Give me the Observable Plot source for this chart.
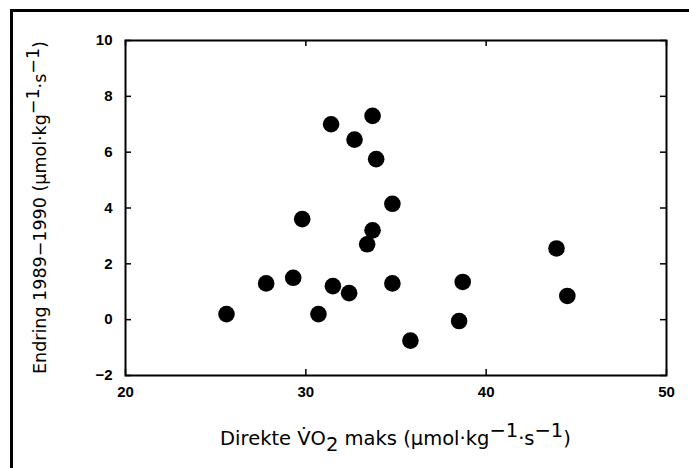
<!DOCTYPE html>
<html>
<head>
<meta charset="utf-8">
<script src="https://cdn.jsdelivr.net/npm/d3@7"></script>
<script src="https://cdn.jsdelivr.net/npm/@observablehq/plot@0.6"></script>
<style>
  html, body { margin: 0; padding: 0; background: #fff; }
  #wrap { position: relative; width: 689px; height: 468px; overflow: hidden; }
  #border { position: absolute; left: 10px; top: 9px; right: -5px; bottom: -5px;
            border-top: 3px solid #000; border-left: 3px solid #000; pointer-events: none; }
</style>
</head>
<body>
<div id="wrap"><div id="border"></div></div>
<script>
// Data
const vo2max = [25.6, 27.8, 29.3, 29.8, 30.7, 31.4, 31.5, 32.4, 32.7, 33.4,
                33.7, 33.7, 33.9, 34.8, 34.8, 35.8, 38.5, 38.7, 43.9, 44.5];
const change = [0.2, 1.3, 1.5, 3.6, 0.2, 7.0, 1.2, 0.95, 6.45, 2.7,
                3.2, 7.3, 5.75, 4.15, 1.3, -0.75, -0.05, 1.35, 2.55, 0.85];
const xTicks = [20, 30, 40, 50];
const yTicks = [-2, 0, 2, 4, 6, 8, 10];
const xLabelParts = [["Direkte ", 0], ["V\u0307O", 0], ["2", -1], [" maks (\u03bcmol\u00b7kg", 0], ["\u22121", 1], ["\u00b7s", 0], ["\u22121", 1], [")", 0]];
const yLabelParts = [["Endring 1989\u22121990 (\u03bcmol\u00b7kg", 0], ["\u22121", 1], ["\u00b7s", 0], ["\u22121", 1], [")", 0]];

const data = vo2max.map((x, i) => ({x, y: change[i]}));

const W = 689, H = 468;
const mL = 125, mR = 23, mT = 40, mB = 93;
const fw = W - mL - mR, fh = H - mT - mB;
const tk = 6;

const chart = Plot.plot({
  width: W, height: H,
  marginLeft: mL, marginRight: mR, marginTop: mT, marginBottom: mB,
  style: {fontFamily: "Liberation Sans, Arial, sans-serif", background: "transparent"},
  x: {domain: [20, 50], label: null},
  y: {domain: [-2, 10], label: null},
  marks: [
    Plot.axisX(xTicks, {tickSize: 0, tickPadding: 11, fontSize: 15, fontWeight: "bold", fill: "#000"}),
    Plot.axisY(yTicks, {tickSize: 0, tickPadding: 13, fontSize: 15, fontWeight: "bold", fill: "#000"}),
    // inward ticks
    Plot.tickY(yTicks, {y: d => d, insetRight: fw - tk, stroke: "#000", strokeWidth: 1.5}),
    Plot.tickY(yTicks, {y: d => d, insetLeft: fw - tk, stroke: "#000", strokeWidth: 1.5}),
    Plot.tickX(xTicks, {x: d => d, insetTop: fh - tk, stroke: "#000", strokeWidth: 1.5}),
    Plot.tickX(xTicks, {x: d => d, insetBottom: fh - tk, stroke: "#000", strokeWidth: 1.5}),
    Plot.frame({stroke: "#000", strokeWidth: 2}),
    Plot.dot(data, {x: "x", y: "y", r: 8.3, fill: "#000", stroke: "none"})
  ]
});

const wrap = document.getElementById("wrap");
wrap.insertBefore(chart, wrap.firstChild);

// Axis titles with super/subscripts
const svg = d3.select(chart);
function addLabel(parts, x, y, rotate, size) {
  const t = svg.append("text")
    .attr("transform", `translate(${x},${y})` + (rotate ? " rotate(-90)" : ""))
    .attr("text-anchor", "middle")
    .attr("font-family", "DejaVu Sans, sans-serif")
    .attr("font-size", size)
    .attr("fill", "#000");
  parts.forEach(([s, shift]) => {
    const ts = t.append("tspan").text(s);
    if (shift === 1) ts.attr("baseline-shift", "40%");
    if (shift === -1) ts.attr("baseline-shift", "-28%");
  });
}
addLabel(xLabelParts, mL + fw / 2, 445, false, 19.5);
addLabel(yLabelParts, 46, mT + fh / 2, true, 17.5);
</script>
</body>
</html>
